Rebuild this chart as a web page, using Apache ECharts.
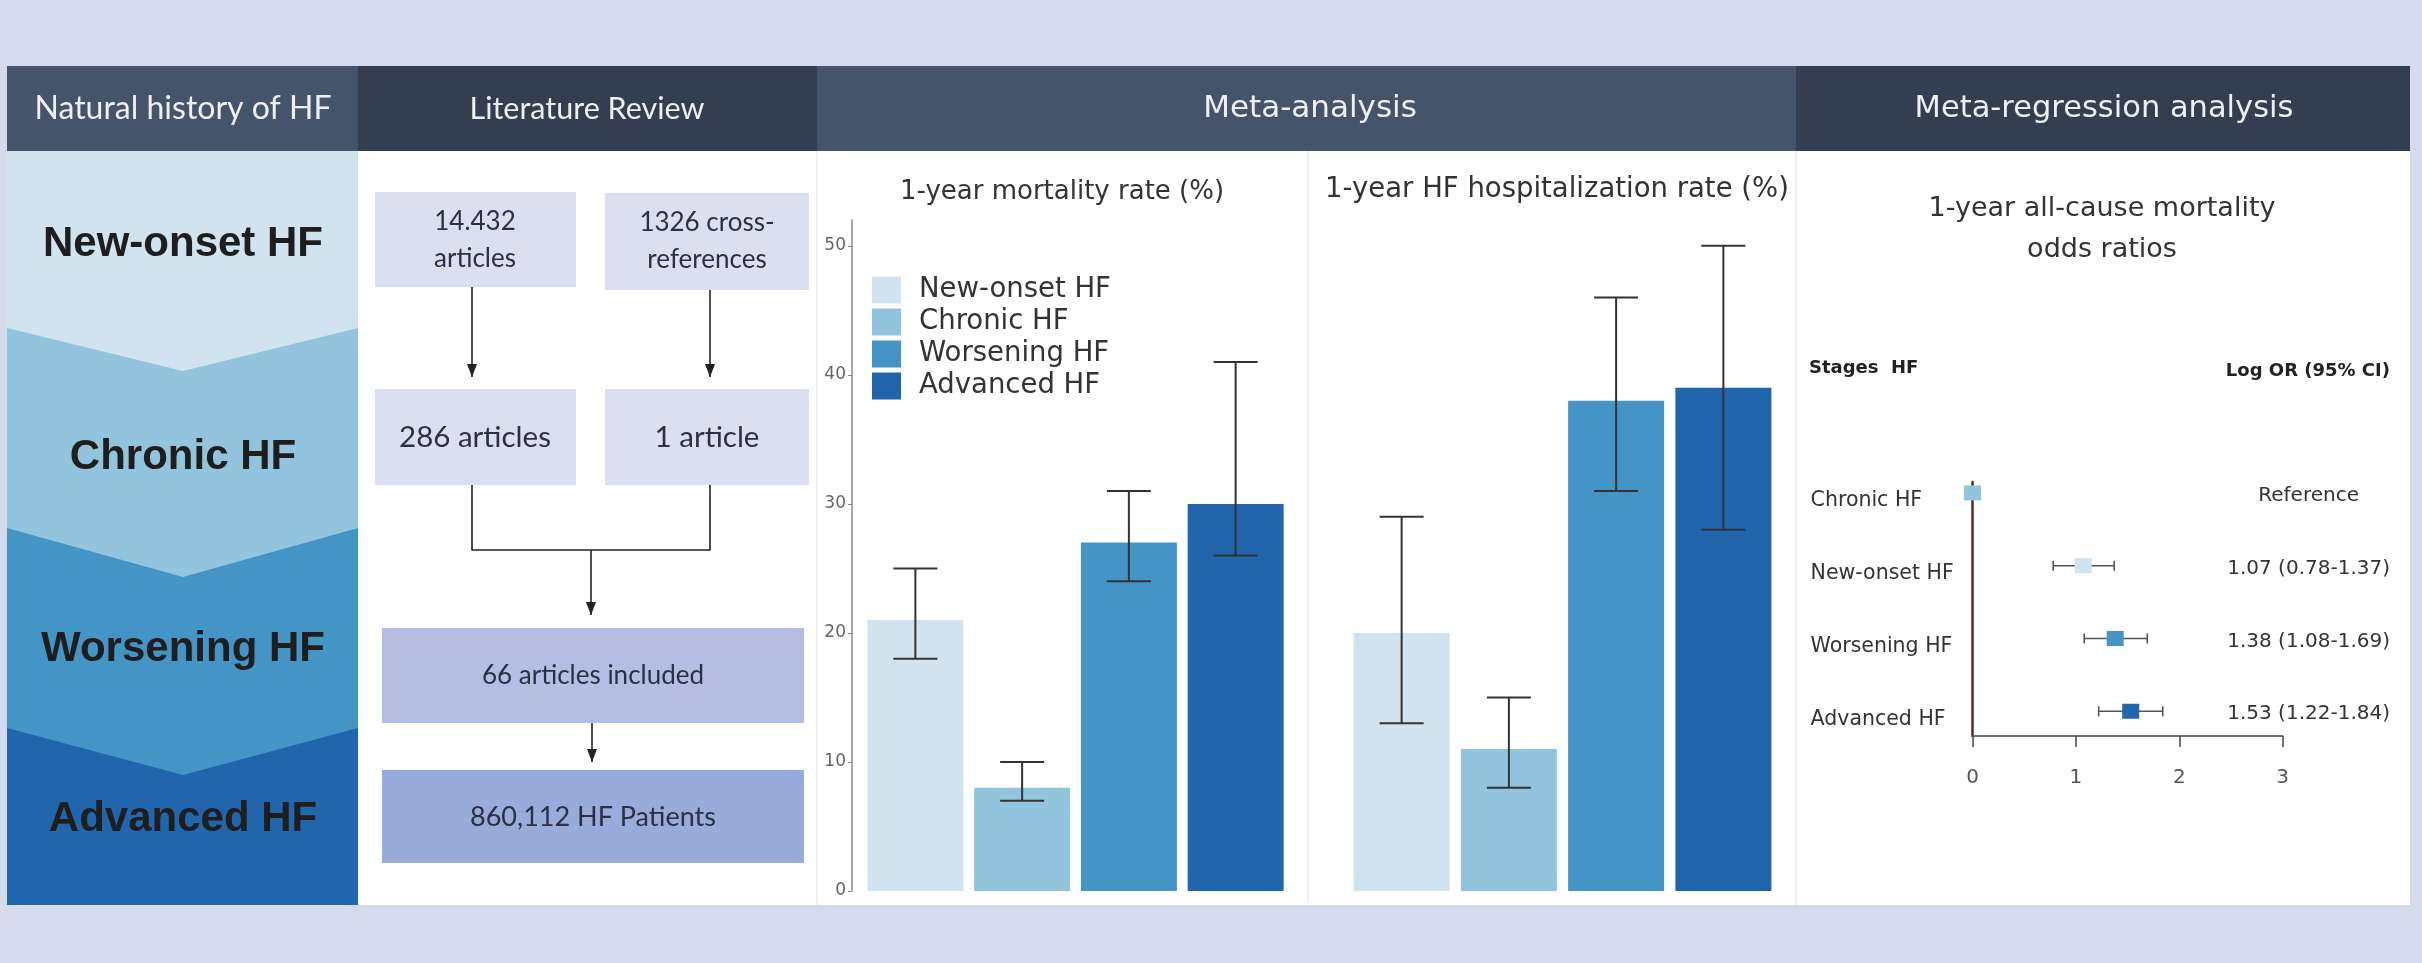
<!DOCTYPE html>
<html>
<head>
<meta charset="utf-8">
<title>Heart failure stages</title>
<script src="https://cdn.jsdelivr.net/npm/echarts@6.0.0/dist/echarts.min.js"></script>
<style>
  html, body { margin: 0; padding: 0; background: #d6daed; }
  #main { width: 2422px; height: 963px; }
</style>
</head>
<body>
<div id="main"></div>
<script>
// stages and colours (bars, legend, chevrons)
const stages = ["New-onset HF", "Chronic HF", "Worsening HF", "Advanced HF"];
const stageColors = ["#d1e3ee", "#93c4de", "#4594c6", "#2166ac"];

// 1-year mortality rate (%)
const mortality = [21, 8, 27, 30];
const mortalityLow = [18, 7, 24, 26];
const mortalityHigh = [25, 10, 31, 41];

// 1-year HF hospitalization rate (%)
const hospitalization = [20, 11, 38, 39];
const hospitalizationLow = [13, 8, 31, 28];
const hospitalizationHigh = [29, 15, 46, 50];

const rateTicks = [0, 10, 20, 30, 40, 50];

// meta-regression, log OR
const forestStages = ["Chronic HF", "New-onset HF", "Worsening HF", "Advanced HF"];
const forestColors = ["#93c4de", "#d1e3ee", "#4594c6", "#2166ac"];
const logOR = [0, 1.07, 1.38, 1.53];
const logORLow = [null, 0.78, 1.08, 1.22];
const logORHigh = [null, 1.37, 1.69, 1.84];
const logORText = ["Reference", "1.07 (0.78-1.37)", "1.38 (1.08-1.69)", "1.53 (1.22-1.84)"];

const chart = echarts.init(document.getElementById("main"));

const LATO = "Lato";
const DEJAVU = "DejaVu Sans";

function txt(x, y, text, size, opt) {
  opt = opt || {};
  return {
    type: "text",
    x: x,
    y: y,
    z: opt.z || 5,
    silent: true,
    style: {
      text: text,
      fontSize: size,
      fontFamily: opt.family || LATO,
      fontWeight: opt.weight || "normal",
      fill: opt.color || "#2b3046",
      align: opt.align || "center",
      verticalAlign: "middle",
      lineHeight: opt.lineHeight || size * 1.2
    }
  };
}

function box(x1, y1, x2, y2, color, z) {
  return { type: "rect", z: z || -5, silent: true, shape: { x: x1, y: y1, width: x2 - x1, height: y2 - y1 }, style: { fill: color } };
}

function arrow(points) {
  const last = points[points.length - 1];
  return [
    { type: "polyline", z: -2, silent: true, shape: { points: points }, style: { stroke: "#222", lineWidth: 1.6, fill: null } },
    { type: "polygon", z: -2, silent: true, shape: { points: [[last[0] - 5, last[1] - 13], [last[0] + 5, last[1] - 13], [last[0], last[1]]] }, style: { fill: "#222" } }
  ];
}

function chevron(bottomSide, tip, color, z) {
  return {
    type: "polygon", z: z, silent: true,
    shape: { points: [[7, 151], [358, 151], [358, bottomSide], [183, tip], [7, bottomSide]] },
    style: { fill: color }
  };
}

function vline(x, y1, y2) {
  return { type: "line", z: -4, silent: true, shape: { x1: x, y1: y1, x2: x, y2: y2 }, style: { stroke: "#ececec", lineWidth: 1.5 } };
}

const graphics = [
  // panels
  box(7, 151, 2410, 905, "#ffffff", -9),
  box(7, 66, 358, 151, "#44546a", -5),
  box(358, 66, 817, 151, "#333f50", -5),
  box(817, 66, 1796, 151, "#44546a", -5),
  box(1796, 66, 2410, 151, "#333f50", -5),
  vline(817, 151, 905),
  vline(1308, 151, 903),
  vline(1796, 151, 905),
  // natural history column
  box(7, 151, 358, 905, stageColors[3], -8),
  chevron(728, 775, stageColors[2], -7),
  chevron(528, 577, stageColors[1], -6),
  chevron(328, 371, stageColors[0], -5),
  txt(183, 244, stages[0], 42, { family: "Liberation Sans", weight: "bold", color: "#1e1e1e" }),
  txt(183, 457, stages[1], 42, { family: "Liberation Sans", weight: "bold", color: "#1e1e1e" }),
  txt(183, 649, stages[2], 42, { family: "Liberation Sans", weight: "bold", color: "#1e1e1e" }),
  txt(183, 819, stages[3], 42, { family: "Liberation Sans", weight: "bold", color: "#1e1e1e" }),
  // headers
  txt(183, 109, "Natural history of HF", 32, { color: "#eef0f5" }),
  txt(587, 109, "Literature Review", 30.5, { color: "#eef0f5" }),
  txt(1310, 109, "Meta-analysis", 31, { family: DEJAVU, color: "#eef0f5" }),
  txt(2104, 109, "Meta-regression analysis", 30.5, { family: DEJAVU, color: "#eef0f5" }),
  // literature review flow
  box(375, 192, 576, 287, "#dcdff0", -3),
  box(605, 193, 809, 290, "#dcdff0", -3),
  box(375, 389, 576, 485, "#dcdff0", -3),
  box(605, 389, 809, 485, "#dcdff0", -3),
  box(382, 628, 804, 723, "#b5bde2", -3),
  box(382, 770, 804, 863, "#98abda", -3),
  txt(475, 240, "14.432\narticles", 26, { lineHeight: 37 }),
  txt(707, 241, "1326 cross-\nreferences", 26, { lineHeight: 37 }),
  txt(475, 437, "286 articles", 29.5),
  txt(707, 437, "1 article", 29.5),
  txt(593, 676, "66 articles included", 26),
  txt(593, 817, "860,112 HF Patients", 27),
  ...arrow([[472, 287], [472, 377]]),
  ...arrow([[710, 290], [710, 377]]),
  { type: "polyline", z: -2, silent: true, shape: { points: [[472, 485], [472, 550], [710, 550], [710, 485]] }, style: { stroke: "#222", lineWidth: 1.6, fill: null } },
  ...arrow([[591, 550], [591, 615]]),
  ...arrow([[592, 723], [592, 762]]),
  // chart titles
  txt(1062, 192, "1-year mortality rate (%)", 26, { family: DEJAVU, color: "#333" }),
  txt(1557, 190, "1-year HF hospitalization rate (%)", 27.5, { family: DEJAVU, color: "#333" }),
  txt(2102, 209, "1-year all-cause mortality", 27, { family: DEJAVU, color: "#333" }),
  txt(2102, 250, "odds ratios", 27, { family: DEJAVU, color: "#333" }),
  txt(1809, 368, "Stages  HF", 18, { family: DEJAVU, weight: "bold", color: "#222", align: "left" }),
  txt(2390, 371, "Log OR (95% CI)", 18, { family: DEJAVU, weight: "bold", color: "#222", align: "right" })
];

function errorBarItem(params, api) {
  const x = api.value(0);
  const lo = api.coord([x, api.value(1)]);
  const hi = api.coord([x, api.value(2)]);
  const half = 22;
  const style = { stroke: "#333", lineWidth: 2 };
  return {
    type: "group",
    children: [
      { type: "line", shape: { x1: hi[0], y1: hi[1], x2: lo[0], y2: lo[1] }, style: style },
      { type: "line", shape: { x1: hi[0] - half, y1: hi[1], x2: hi[0] + half, y2: hi[1] }, style: style },
      { type: "line", shape: { x1: lo[0] - half, y1: lo[1], x2: lo[0] + half, y2: lo[1] }, style: style }
    ]
  };
}

function forestItem(params, api) {
  const i = params.dataIndex;
  const row = api.value(0);
  const p = api.coord([api.value(1), row]);
  const left = api.coord([0, row]);
  const right = api.coord([3, row]);
  const children = [];
  const ciStyle = { stroke: "#555", lineWidth: 1.6 };
  if (logORLow[i] != null) {
    const a = api.coord([logORLow[i], row]);
    const b = api.coord([logORHigh[i], row]);
    children.push(
      { type: "line", shape: { x1: a[0], y1: a[1], x2: b[0], y2: b[1] }, style: ciStyle },
      { type: "line", shape: { x1: a[0], y1: a[1] - 5, x2: a[0], y2: a[1] + 5 }, style: ciStyle },
      { type: "line", shape: { x1: b[0], y1: b[1] - 5, x2: b[0], y2: b[1] + 5 }, style: ciStyle }
    );
  }
  children.push({ type: "rect", shape: { x: p[0] - 8.5, y: p[1] - 7.5, width: 17, height: 15 }, style: { fill: forestColors[i] } });
  children.push({
    type: "text", x: left[0] - 162, y: p[1] + 8,
    style: { text: forestStages[i], fontSize: 20.5, fontFamily: DEJAVU, fill: "#333", align: "left", verticalAlign: "middle" }
  });
  children.push({
    type: "text", x: right[0] + 26, y: p[1] + 3,
    style: { text: logORText[i], fontSize: 20, fontFamily: DEJAVU, fill: "#333", align: "center", verticalAlign: "middle" }
  });
  return { type: "group", children: children };
}

function barSeries(values, axis) {
  return stages.map(function (name, i) {
    return {
      name: name,
      type: "bar",
      xAxisIndex: axis,
      yAxisIndex: axis,
      barWidth: 96,
      barGap: "-100%",
      itemStyle: { color: stageColors[i] },
      data: values.map(function (v, j) { return j === i ? v : "-"; })
    };
  });
}

const hiddenCat = {
  type: "category",
  data: stages,
  axisLine: { show: false },
  axisTick: { show: false },
  axisLabel: { show: false },
  splitLine: { show: false }
};

const option = {
  backgroundColor: "#d6daed",
  animation: false,
  graphic: { elements: graphics },
  legend: {
    data: stages,
    orient: "vertical",
    left: 867,
    top: 271,
    itemWidth: 29,
    itemHeight: 27,
    itemGap: 4,
    icon: "rect",
    selectedMode: false,
    textStyle: { fontSize: 27.5, fontFamily: DEJAVU, color: "#333", padding: [0, 0, 0, 13] }
  },
  grid: [
    { left: 862, top: 220, width: 427, height: 671, outerBoundsMode: "none" },
    { left: 1348, top: 220, width: 429, height: 671, outerBoundsMode: "none" },
    { left: 1972.6, top: 482, width: 310, height: 254, outerBoundsMode: "none" }
  ],
  xAxis: [
    Object.assign({ gridIndex: 0 }, hiddenCat),
    Object.assign({ gridIndex: 1 }, hiddenCat),
    {
      type: "value", gridIndex: 2, min: 0, max: 3, interval: 1, position: "bottom",
      axisLine: { show: true, onZero: false, lineStyle: { color: "#444", width: 1.5 } },
      axisTick: { show: true, length: 11, lineStyle: { color: "#444", width: 1.5 } },
      axisLabel: { color: "#555", fontSize: 20, fontFamily: DEJAVU, margin: 32 },
      splitLine: { show: false }
    }
  ],
  yAxis: [
    {
      type: "value", gridIndex: 0, min: 0, max: 52, interval: 10, offset: 10,
      axisLine: { show: true, lineStyle: { color: "#888", width: 1.5 } },
      axisTick: { show: true, length: 4, customValues: rateTicks, lineStyle: { color: "#888" } },
      axisLabel: { customValues: rateTicks, color: "#666", fontSize: 17, fontFamily: DEJAVU, margin: 6 },
      splitLine: { show: false }
    },
    {
      type: "value", gridIndex: 1, min: 0, max: 52, show: false, splitLine: { show: false }
    },
    {
      type: "value", gridIndex: 2, min: -0.15, max: 3.34, inverse: true,
      axisLine: { show: true, onZero: false, lineStyle: { color: "#5a2828", width: 2.5 } },
      axisTick: { show: false },
      axisLabel: { show: false },
      splitLine: { show: false }
    }
  ],
  series: [
    ...barSeries(mortality, 0),
    ...barSeries(hospitalization, 1),
    {
      type: "custom", xAxisIndex: 0, yAxisIndex: 0, z: 5,
      renderItem: errorBarItem,
      encode: { x: 0, y: [1, 2] },
      data: stages.map(function (s, j) { return [j, mortalityLow[j], mortalityHigh[j]]; })
    },
    {
      type: "custom", xAxisIndex: 1, yAxisIndex: 1, z: 5,
      renderItem: errorBarItem,
      encode: { x: 0, y: [1, 2] },
      data: stages.map(function (s, j) { return [j, hospitalizationLow[j], hospitalizationHigh[j]]; })
    },
    {
      type: "custom", xAxisIndex: 2, yAxisIndex: 2, z: 5,
      renderItem: forestItem,
      encode: { x: 1, y: 0 },
      data: forestStages.map(function (s, i) { return [i, logOR[i]]; })
    }
  ]
};

chart.setOption(option);
window.addEventListener("resize", function () { chart.resize(); });
</script>
</body>
</html>
